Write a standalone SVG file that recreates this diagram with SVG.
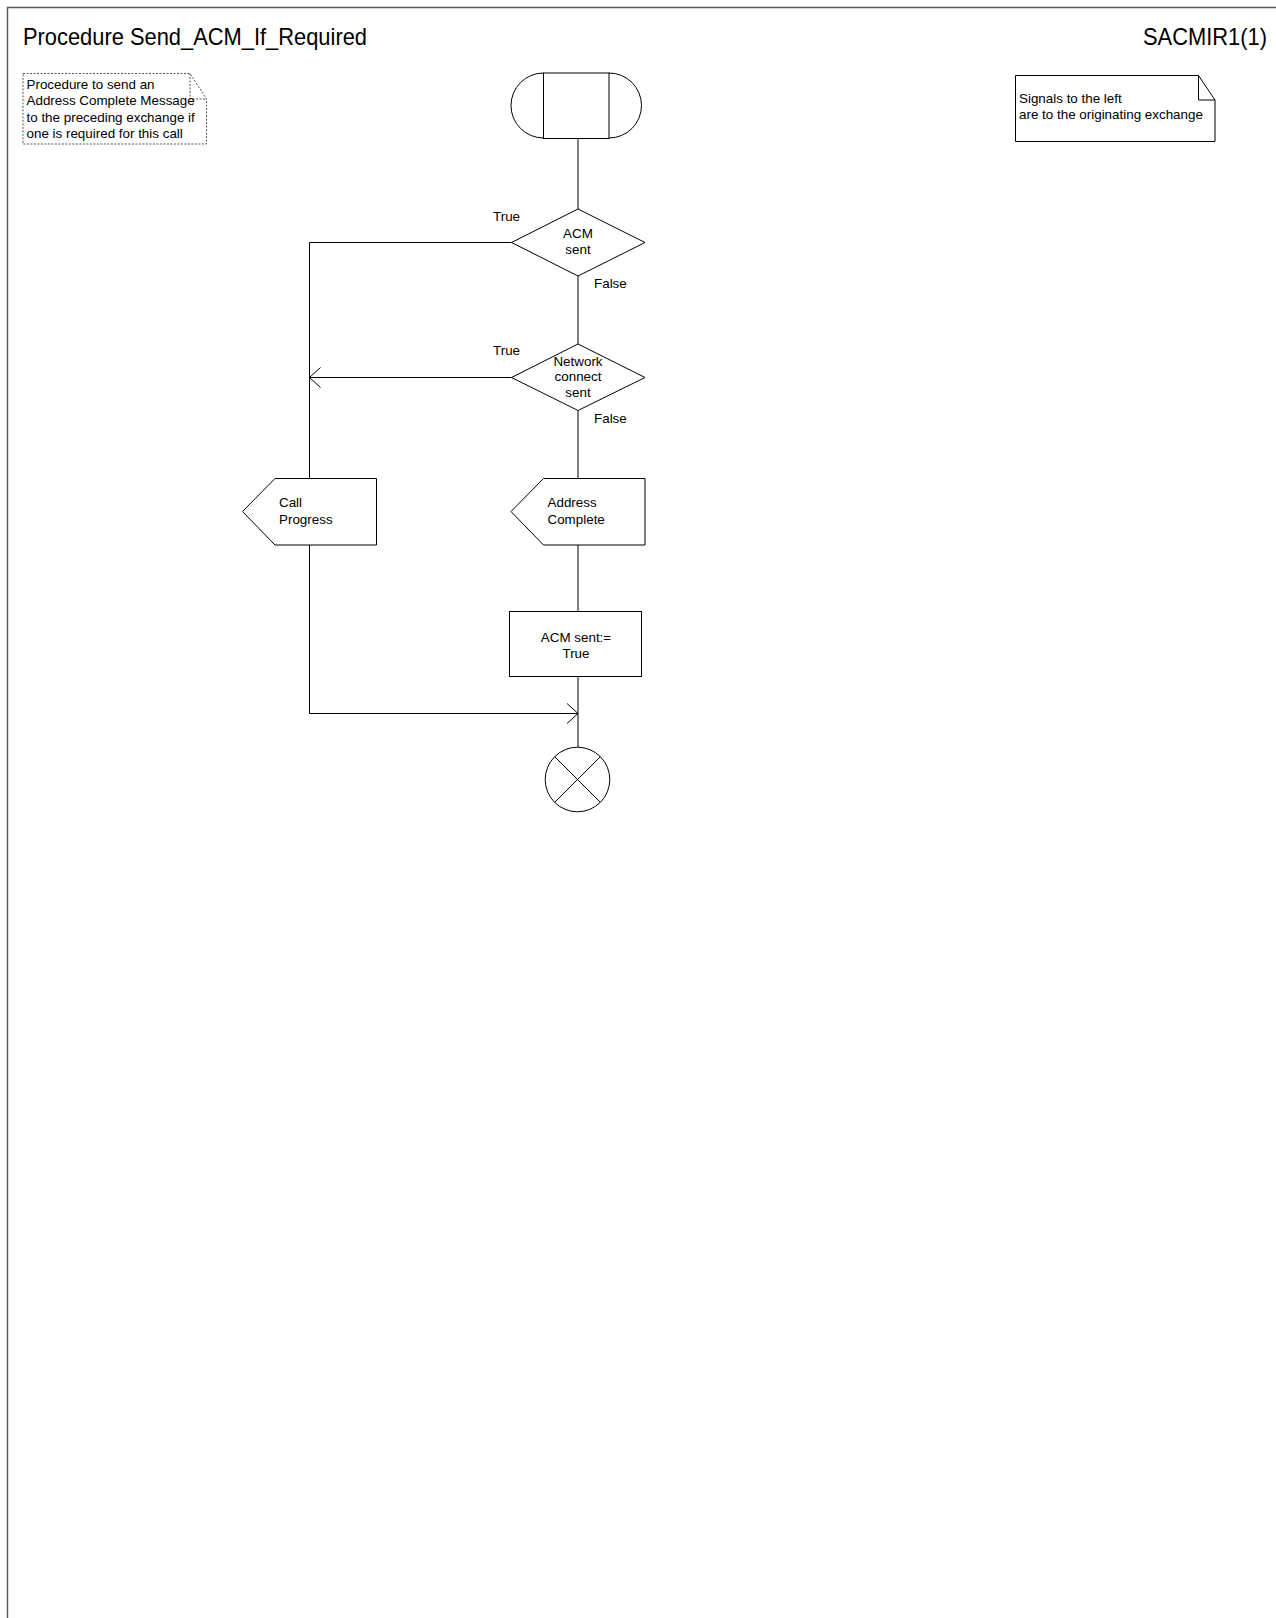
<svg xmlns="http://www.w3.org/2000/svg" width="1276" height="1618" viewBox="0 0 1276 1618">
<style>
text{font-family:"Liberation Sans",Arial,sans-serif;font-size:13.4px;fill:#000}
.hdr{font-size:24px}
.shape{fill:#fff;stroke:#000;stroke-width:1}
.line{fill:none;stroke:#000;stroke-width:1}
.frame{fill:none;stroke:#555;stroke-width:1.4}
.mid{text-anchor:middle}
</style>
<defs>
<marker id="open" viewBox="0 0 12 22" refX="11" refY="11" markerWidth="12" markerHeight="22" markerUnits="userSpaceOnUse" orient="auto">
<path d="M0,1 L11,11 L0,21" fill="none" stroke="#000" stroke-width="1"/>
</marker>
</defs>
<rect width="1276" height="1618" fill="#fff"/>
<path class="frame" d="M7.5,1618 V7.5 H1276"/>
<text class="hdr" x="23" y="45" textLength="344" lengthAdjust="spacingAndGlyphs">Procedure Send_ACM_If_Required</text>
<text class="hdr" x="1143" y="45" textLength="124" lengthAdjust="spacingAndGlyphs">SACMIR1(1)</text>

<g id="note1">
<path d="M23,73.5 H190 L206.5,99 V144 H23 Z" fill="#fff" stroke="#555" stroke-width="1" stroke-dasharray="2,1.5"/>
<path d="M190,73.5 V99 H206.5" fill="none" stroke="#555" stroke-width="1" stroke-dasharray="2,1.5"/>
<text x="26.5" y="88.5">Procedure to send an</text>
<text x="26.5" y="105">Address Complete Message</text>
<text x="26.5" y="121.5">to the preceding exchange if</text>
<text x="26.5" y="138">one is required for this call</text>
</g>

<g id="note2">
<path class="shape" d="M1015.5,75.5 H1198.5 L1215,100 V141.5 H1015.5 Z"/>
<path class="line" d="M1198.5,75.5 V100 H1215"/>
<text x="1019" y="103">Signals to the left</text>
<text x="1019" y="119">are to the originating exchange</text>
</g>

<g id="connectors">
<path class="line" d="M578,138.5 V209"/>
<path class="line" d="M578,276 V344"/>
<path class="line" d="M578,410.5 V478.5"/>
<path class="line" d="M578,545 V611.5"/>
<path class="line" d="M578,676.5 V747"/>
<path class="line" d="M511.5,242.5 H309.5 V478.5"/>
<path class="line" d="M511.5,377.5 H309.5" marker-end="url(#open)"/>
<path class="line" d="M309.5,545 V713.5 H578" marker-end="url(#open)"/>
</g>

<g id="start">
<path class="shape" d="M543.5,73 A32.5,32.5 0 0 0 543.5,138 M609,73 A32.5,32.5 0 0 1 609,138"/>
<rect class="shape" x="543.5" y="73" width="65.5" height="65.5"/>
</g>

<g id="dec1">
<path class="shape" d="M578,209 L645,242.5 L578,276 L511.5,242.5 Z"/>
<text class="mid" x="578" y="238">ACM</text>
<text class="mid" x="578" y="254">sent</text>
<text x="493" y="220.5">True</text>
<text x="594" y="287.5">False</text>
</g>

<g id="dec2">
<path class="shape" d="M578,344 L645,377.5 L578,410.5 L511.5,377.5 Z"/>
<text class="mid" x="578" y="365.5">Network</text>
<text class="mid" x="578" y="381">connect</text>
<text class="mid" x="578" y="396.5">sent</text>
<text x="493" y="355">True</text>
<text x="594" y="422.5">False</text>
</g>

<g id="callProgress">
<path class="shape" d="M275,478.5 H376.5 V545 H275 L242.5,511.5 Z"/>
<text x="279" y="507">Call</text>
<text x="279" y="524">Progress</text>
</g>

<g id="addressComplete">
<path class="shape" d="M543.5,478.5 H645 V545 H543.5 L511,511.5 Z"/>
<text x="547.5" y="507">Address</text>
<text x="547.5" y="524">Complete</text>
</g>

<g id="task">
<rect class="shape" x="509.5" y="611.5" width="132" height="65"/>
<text class="mid" x="576" y="641.5">ACM sent:=</text>
<text class="mid" x="576" y="657.5">True</text>
</g>

<g id="stop">
<circle class="shape" cx="577.5" cy="779.5" r="32.3"/>
<path class="line" d="M554.7,756.7 L600.3,802.3 M600.3,756.7 L554.7,802.3"/>
</g>
</svg>
